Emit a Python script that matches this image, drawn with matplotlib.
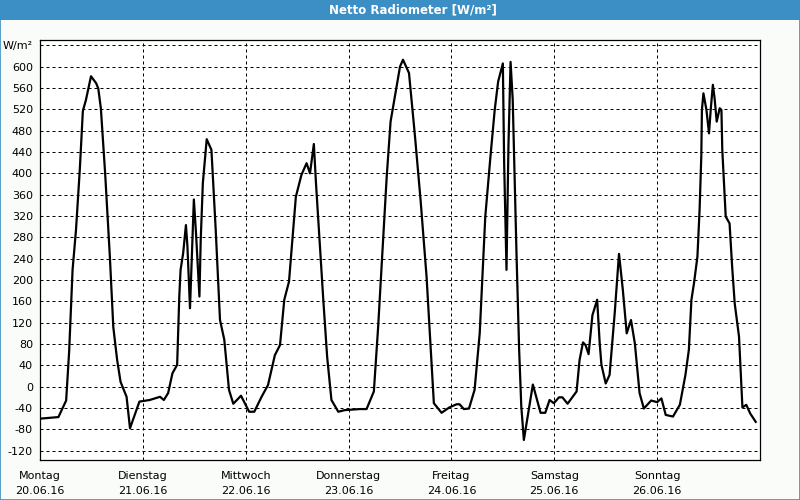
import matplotlib
matplotlib.use("Agg")
import matplotlib.pyplot as plt
from matplotlib.patches import Rectangle
import numpy as np

# hours since Monday 20.06.16 00:00, and net radiation in W/m²
hours = [0, 4.3, 6.1, 6.8, 7.6, 8.4, 9.3, 10.0, 10.7, 11.9, 13.1, 13.6, 14.2, 15.2,
         16.3, 17.1, 18.0, 18.8, 20.2, 21.0, 23.2, 25.6, 28.0, 28.9, 29.9, 30.9,
         32.0, 32.5, 32.8, 33.4, 34.05, 34.4, 35.0, 35.5, 35.9, 36.4, 37.2, 37.5,
         38.0, 38.9, 40.0, 41.0, 42.0, 43.0, 44.1, 45.1, 46.9, 47.8, 48.8, 50.0,
         51.7, 53.2, 54.8, 56.0, 57.0, 58.1, 59.7, 61.0, 62.2, 63.0, 63.9, 64.4,
         66.1, 67.0, 68.0, 69.6, 71.1, 74.6, 76.2, 77.9, 78.9, 80.1, 80.9, 81.8,
         83.2, 84.0, 84.7, 86.1, 87.5, 88.8, 90.2, 91.1, 91.9, 93.7, 95.5, 97.2,
         97.9, 98.9, 100.1, 101.4, 102.6, 103.9, 105.1, 106.1, 106.9, 108.0, 108.3,
         108.85, 109.3, 109.8, 110.3, 111.2, 111.8, 112.3, 112.9, 115.0, 116.8,
         117.9, 118.9, 119.9, 121.1, 121.9, 123.1, 125.2, 125.9, 126.7, 127.3,
         128.0, 128.9, 130.0, 130.6, 131.0, 132.0, 132.9, 134.1, 135.1, 136.0,
         136.9, 137.9, 138.8, 139.9, 140.9, 142.6, 144.0, 145.0, 146.0, 147.7,
         149.3, 150.6, 151.4, 152.0, 152.6, 153.4, 153.9, 154.3, 154.45, 154.8,
         155.5, 156.1, 156.5, 157.0, 157.4, 157.9, 158.6, 159.0, 159.2, 160.0,
         160.9, 161.5, 162.1, 163.1, 163.9, 164.8, 165.7, 167.0]
values = [-60, -57, -26, 66, 219, 294, 409, 517, 537, 582, 569, 559, 522, 400,
          244, 112, 50, 9, -19, -78, -28, -25, -19, -25, -12, 25,
          41, 169, 219, 250, 303, 263, 147, 263, 351, 288, 169, 275,
          382, 464, 444, 294, 125, 88, -6, -32, -17, -31, -47, -47,
          -19, 3, 59, 78, 163, 197, 356, 397, 419, 400, 455, 381,
          163, 56, -25, -47, -44, -42, -42, -9, 112, 281, 394, 497,
          562, 600, 613, 588, 469, 350, 206, 81, -31, -49, -39, -33,
          -33, -42, -41, -6, 100, 319, 431, 519, 572, 606, 420,
          219, 450, 609, 538, 244, 69, -37, -100, 4, -49,
          -49, -25, -31, -20, -20, -32, -9, 50, 83, 78,
          61, 134, 163, 81, 41, 6, 22, 138, 249, 181,
          100, 125, 81, -12, -41, -26, -29, -22, -53, -56,
          -34, 22, 69, 163, 194, 244, 331, 431, 519, 550,
          519, 475, 519, 566, 541, 497, 522, 519, 444, 319,
          306, 225, 156, 94, -39, -34, -50, -66]

day_names = ["Montag", "Dienstag", "Mittwoch", "Donnerstag", "Freitag", "Samstag", "Sonntag"]
day_dates = ["20.06.16", "21.06.16", "22.06.16", "23.06.16", "24.06.16", "25.06.16", "26.06.16"]
y_ticks = list(range(-120, 641, 40))

fig = plt.figure(figsize=(8, 5), dpi=100)
fig.patch.set_facecolor("#fafcfa")

# title bar and outer border
fig.patches.append(Rectangle((0, 0.96), 1, 0.04, transform=fig.transFigure,
                             facecolor="#3b8fc5", edgecolor="none", zorder=0))
fig.patches.append(Rectangle((0.0006, 0.001), 0.9988, 0.998, transform=fig.transFigure,
                             facecolor="none", edgecolor="#3b8fc5", linewidth=1.2, zorder=1))
fig.text(0.516, 0.98, "Netto Radiometer [W/m²]", color="white", fontsize=8.5,
         fontweight="bold", ha="center", va="center")

ax = fig.add_axes([0.05, 0.08, 0.90, 0.84])
ax.set_facecolor("white")
days = np.array(hours) / 24.0
ax.plot(days, values, color="black", linewidth=1.6, zorder=3)

ax.set_xlim(0, 7)
ax.set_ylim(-137.5, 650)
ax.set_yticks(y_ticks)
ax.set_yticklabels([("W/m²" if v == 640 else str(v)) for v in y_ticks], fontsize=8)
ax.set_xticks(range(7))
ax.set_xticklabels([n + "\n" + d for n, d in zip(day_names, day_dates)], fontsize=8,
                   linespacing=1.55)
ax.tick_params(axis="both", length=0, pad=5)
ax.tick_params(axis="x", pad=8)

ax.grid(True, color="black", linestyle=(0, (3, 3)), linewidth=0.72)
ax.set_axisbelow(True)
for s in ax.spines.values():
    s.set_color("black")
    s.set_linewidth(0.9)

fig.savefig("out.png", dpi=100, facecolor=fig.get_facecolor())
